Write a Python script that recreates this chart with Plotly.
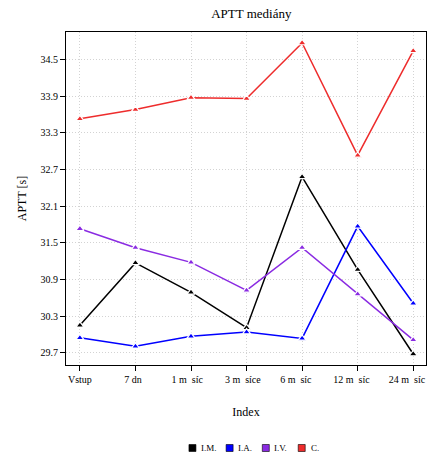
import plotly.graph_objects as go

NB = "\u00a0"
categories = ["Vstup", "7 dn" + NB * 2, "1 m" + NB * 2 + "síc" + NB * 3, "3 m" + NB * 2 + "síce" + NB * 3,
              "6 m" + NB * 2 + "síc" + NB * 5, "12 m" + NB * 2 + "síc" + NB * 5, "24 m" + NB * 2 + "síc" + NB * 5]
series_names = ["I.M.", "I.A.", "I.V.", "C."]
im_values = [30.15, 31.17, 30.69, 30.11, 32.58, 31.06, 29.68]
ia_values = [29.945, 29.805, 29.97, 30.04, 29.935, 31.77, 30.51]
iv_values = [31.73, 31.42, 31.18, 30.72, 31.42, 30.66, 29.91]
c_values = [33.53, 33.68, 33.875, 33.86, 34.77, 32.93, 34.64]
colors = ["#000000", "#0000ff", "#8a2be2", "#ee2c2c"]
y_ticks = [29.7, 30.3, 30.9, 31.5, 32.1, 32.7, 33.3, 33.9, 34.5]

font_family = "Liberation Serif, Times New Roman, serif"

W, H = 441, 466
ML, MR, MT, MB = 66, 4, 32, 97
plot_w = W - ML - MR
plot_h = H - MT - MB

legend_names = ["legend", "legend2", "legend3", "legend4"]
legend_sym_x = [191.7, 230.0, 267.3, 304.3]   # pixel centres of legend squares
legend_txt_x = [202.7, 241.0, 278.3, 316.7]   # pixel starts of legend labels
legend_py = 453

fig = go.Figure()
x_idx = list(range(len(categories)))
for name, vals, col, lg in zip(series_names, [im_values, ia_values, iv_values, c_values], colors, legend_names):
    fig.add_trace(go.Scatter(
        x=x_idx, y=vals, name=name, mode="lines+markers",
        line=dict(color=col, width=1.5),
        marker=dict(symbol="triangle-up", size=7, color=col,
                    line=dict(color="white", width=1.2)),
        showlegend=False,
    ))
    fig.add_trace(go.Scatter(
        x=[None], y=[None], name="", mode="markers", legend=lg,
        marker=dict(symbol="square", size=7, color=col,
                    line=dict(color="black", width=0.6)),
    ))

legend_y = -(legend_py - (H - MB)) / plot_h
layout_legends = {}
for lg, sx in zip(legend_names, legend_sym_x):
    layout_legends[lg] = dict(
        x=(sx - 16 - ML) / plot_w, xanchor="left", y=legend_y, yanchor="middle",
        orientation="h", font=dict(family=font_family, size=9),
        bgcolor="rgba(0,0,0,0)", borderwidth=0,
    )

annotations = [
    dict(text=name, x=(tx - ML) / plot_w, y=legend_y, xref="paper", yref="paper",
         xanchor="left", yanchor="middle", showarrow=False,
         font=dict(family=font_family, size=9, color="black"))
    for name, tx in zip(series_names, legend_txt_x)
]

fig.update_layout(
    width=W, height=H,
    margin=dict(l=ML, r=MR, t=MT, b=MB),
    paper_bgcolor="white", plot_bgcolor="white",
    font=dict(family=font_family, size=10, color="black"),
    title=dict(text="APTT mediány", x=0.57, xanchor="center", y=1 - 13 / H, yanchor="middle",
               font=dict(family=font_family, size=13, color="black")),
    showlegend=True,
    annotations=annotations,
    **layout_legends,
)
fig.update_xaxes(
    range=[-0.25, 6.23], tickmode="array", tickvals=x_idx, ticktext=categories,
    showline=True, linecolor="black", linewidth=1, mirror=True,
    ticks="outside", ticklen=5, tickcolor="black",
    showgrid=True, gridcolor="#d3d3d3", griddash="1px,2px", gridwidth=1,
    zeroline=False, ticklabeloverflow="allow",
    title=dict(text="Index", font=dict(family=font_family, size=12), standoff=23),
    tickfont=dict(family=font_family, size=10),
)
fig.update_yaxes(
    range=[29.5, 34.95], tickmode="array", tickvals=y_ticks,
    ticktext=[f"{v:.1f}" for v in y_ticks],
    showline=True, linecolor="black", linewidth=1, mirror=True,
    ticks="outside", ticklen=5, tickcolor="black",
    showgrid=True, gridcolor="#d3d3d3", griddash="1px,2px", gridwidth=1,
    zeroline=False,
    title=dict(text="APTT [s]", font=dict(family=font_family, size=12), standoff=11),
    tickfont=dict(family=font_family, size=10),
)
fig.write_html("out.html", config={"displayModeBar": False},
               post_script="document.body.style.margin='0';")
